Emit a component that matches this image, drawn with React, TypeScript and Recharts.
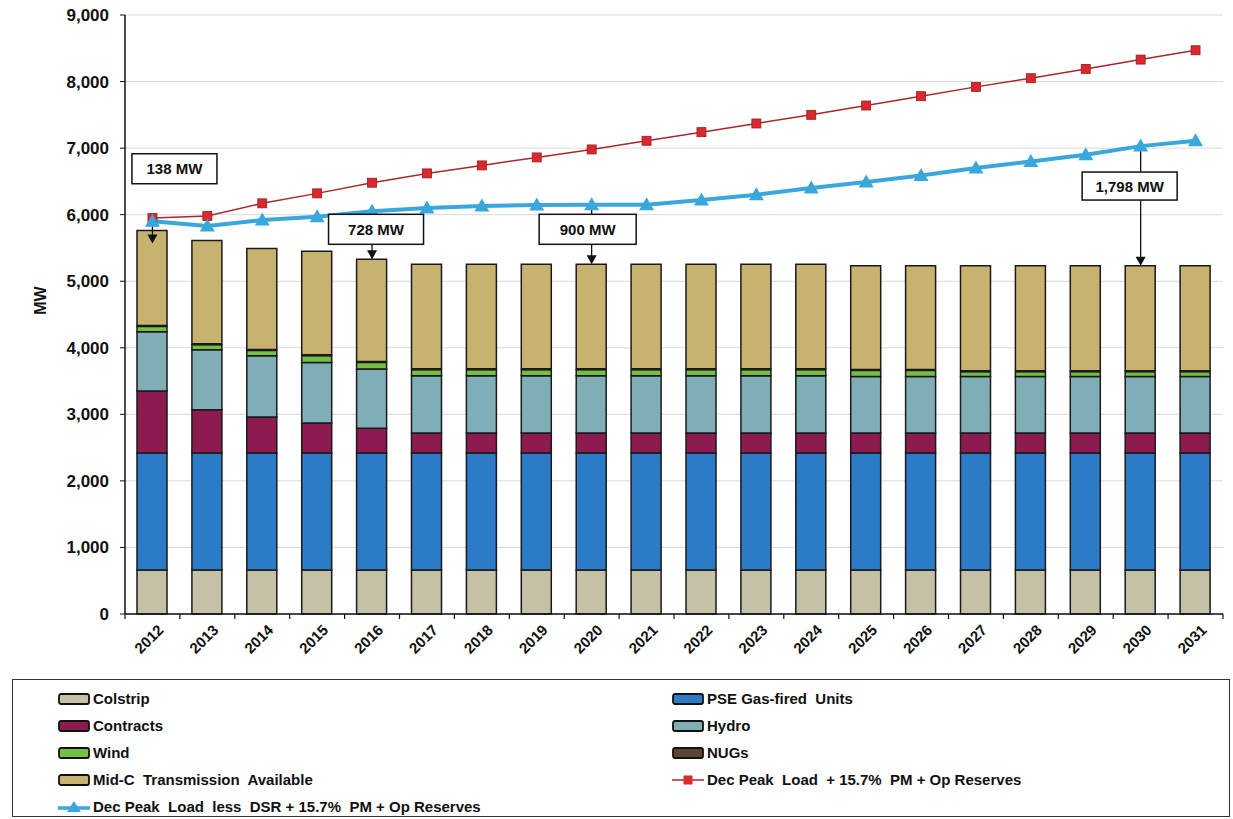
import {
  ComposedChart,
  Bar,
  Line,
  XAxis,
  YAxis,
  CartesianGrid,
  ReferenceLine,
  ReferenceDot,
} from 'recharts';

const years = [
  '2012', '2013', '2014', '2015', '2016', '2017', '2018', '2019', '2020', '2021',
  '2022', '2023', '2024', '2025', '2026', '2027', '2028', '2029', '2030', '2031',
];
const colstrip = [660, 660, 660, 660, 660, 660, 660, 660, 660, 660, 660, 660, 660, 660, 660, 660, 660, 660, 660, 660];
const gasUnits = [1760, 1760, 1760, 1760, 1760, 1760, 1760, 1760, 1760, 1760, 1760, 1760, 1760, 1760, 1760, 1760, 1760, 1760, 1760, 1760];
const contracts = [930, 650, 540, 450, 370, 300, 300, 300, 300, 300, 300, 300, 300, 300, 300, 300, 300, 300, 300, 300];
const hydro = [890, 900, 920, 910, 890, 860, 860, 860, 860, 860, 860, 860, 860, 850, 850, 850, 850, 850, 850, 850];
const wind = [80, 75, 80, 100, 100, 90, 90, 90, 90, 90, 90, 90, 90, 90, 90, 70, 70, 70, 70, 70];
const nugs = [15, 15, 15, 15, 15, 15, 15, 15, 15, 15, 15, 15, 15, 15, 15, 15, 15, 15, 15, 15];
const midC = [1427, 1550, 1515, 1555, 1535, 1570, 1570, 1570, 1570, 1570, 1570, 1570, 1570, 1557, 1557, 1577, 1577, 1577, 1577, 1577];
const peakLoad = [5950, 5980, 6170, 6320, 6480, 6620, 6740, 6860, 6980, 7110, 7240, 7370, 7500, 7640, 7780, 7920, 8050, 8190, 8330, 8470];
const peakLessDsr = [5900, 5830, 5920, 5970, 6050, 6100, 6130, 6145, 6150, 6150, 6220, 6300, 6400, 6490, 6590, 6700, 6800, 6900, 7030, 7110];
const yTicks = [0, 1000, 2000, 3000, 4000, 5000, 6000, 7000, 8000, 9000];

// gap callouts: year, label text
const gapYears = ['2012', '2016', '2020', '2030'];
const gapLabels = ['138 MW', '728 MW', '900 MW', '1,798 MW'];

const data = years.map((year, i) => ({
  year,
  colstrip: colstrip[i],
  gas: gasUnits[i],
  contracts: contracts[i],
  hydro: hydro[i],
  wind: wind[i],
  nugs: nugs[i],
  midC: midC[i],
  peak: peakLoad[i],
  peakDsr: peakLessDsr[i],
  total: colstrip[i] + gasUnits[i] + contracts[i] + hydro[i] + wind[i] + nugs[i] + midC[i],
}));

const C = {
  colstrip: '#c5c1a7',
  gas: '#2b7bc6',
  contracts: '#8c1b50',
  hydro: '#80aeb7',
  wind: '#74bf45',
  nugs: '#5a4536',
  midC: '#c8b26f',
  redLine: '#a8282b',
  redMark: '#d9282e',
  blue: '#3aa7dc',
};

const FONT = "'Liberation Sans', Arial, sans-serif";

function YearTick(props: any) {
  const { x, y, payload, index } = props;
  const half = 27.45;
  return (
    <g>
      <line x1={x - half} x2={x - half} y1={y - 8} y2={y - 3} stroke="#111" strokeWidth={1.2} />
      {index === years.length - 1 && (
        <line x1={x + half} x2={x + half} y1={y - 8} y2={y - 3} stroke="#111" strokeWidth={1.2} />
      )}
      <text
        transform={`translate(${x + 12},${y + 9}) rotate(-45)`}
        textAnchor="end"
        fontFamily={FONT}
        fontWeight="bold"
        fontSize={15}
        fill="#111"
      >
        {payload.value}
      </text>
    </g>
  );
}

function SquareDot(props: any) {
  const { cx, cy } = props;
  if (cx == null || cy == null) return null;
  return <rect x={cx - 4.5} y={cy - 4.5} width={9} height={9} fill={C.redMark} stroke="#9b1c1f" strokeWidth={0.8} />;
}

function TriangleDot(props: any) {
  const { cx, cy } = props;
  if (cx == null || cy == null) return null;
  return <polygon points={`${cx},${cy - 7.5} ${cx - 7.5},${cy + 5.5} ${cx + 7.5},${cy + 5.5}`} fill={C.blue} />;
}

function makeArrow(extraBottom: number) {
  return (props: any) => {
    const { x1, y1, x2, y2 } = props;
    const top = Math.min(y1, y2) - 4;
    const bot = Math.max(y1, y2) + extraBottom;
    return (
      <g>
        <line x1={x1} x2={x2} y1={top + 6} y2={bot - 6} stroke="#111" strokeWidth={1.3} />
        <polygon points={`${x1},${top} ${x1 - 5},${top + 9} ${x1 + 5},${top + 9}`} fill="#111" />
        <polygon points={`${x1},${bot} ${x1 - 5},${bot - 9} ${x1 + 5},${bot - 9}`} fill="#111" />
      </g>
    );
  };
}

function makeBox(text: string, dx: number, w: number, h: number) {
  return (props: any) => {
    const { cx, cy } = props;
    return (
      <g>
        <rect x={cx + dx - w / 2} y={cy - h / 2} width={w} height={h} fill="#fff" stroke="#111" strokeWidth={1.5} />
        <text
          x={cx + dx}
          y={cy + 5.5}
          textAnchor="middle"
          fontFamily={FONT}
          fontWeight="bold"
          fontSize={15}
          fill="#111"
        >
          {text}
        </text>
      </g>
    );
  };
}

const boxPlacement = [
  { y: 6690, dx: 22, w: 85, h: 30, extra: 13 },
  { y: 5780, dx: 4, w: 95, h: 30, extra: 0 },
  { y: 5780, dx: -4, w: 97, h: 30, extra: 0 },
  { y: 6430, dx: -11, w: 95, h: 28, extra: 0 },
];

const legendItems = [
  { name: 'Colstrip', kind: 'bar', color: C.colstrip },
  { name: 'PSE Gas-fired  Units', kind: 'bar', color: C.gas },
  { name: 'Contracts', kind: 'bar', color: C.contracts },
  { name: 'Hydro', kind: 'bar', color: C.hydro },
  { name: 'Wind', kind: 'bar', color: C.wind },
  { name: 'NUGs', kind: 'bar', color: C.nugs },
  { name: 'Mid-C  Transmission  Available', kind: 'bar', color: C.midC },
  { name: 'Dec Peak  Load  + 15.7%  PM + Op Reserves', kind: 'red', color: C.redMark },
  { name: 'Dec Peak  Load  less  DSR + 15.7%  PM + Op Reserves', kind: 'blue', color: C.blue },
];

function Swatch({ kind, color }: { kind: string; color: string }) {
  if (kind === 'bar') {
    return (
      <svg width={32} height={12}>
        <rect x={1} y={1} width={30} height={10} rx={2} fill={color} stroke="#111" strokeWidth={1.8} />
      </svg>
    );
  }
  if (kind === 'red') {
    return (
      <svg width={32} height={12}>
        <line x1={0} x2={32} y1={6} y2={6} stroke={C.redLine} strokeWidth={1.5} />
        <rect x={11.5} y={1.5} width={9} height={9} fill={C.redMark} />
      </svg>
    );
  }
  return (
    <svg width={32} height={14}>
      <line x1={0} x2={32} y1={8} y2={8} stroke={C.blue} strokeWidth={3.5} />
      <polygon points="16,1 9,12 23,12" fill={C.blue} />
    </svg>
  );
}

export default function App() {
  return (
    <div style={{ position: 'absolute', left: 0, top: 0, width: 1233, height: 819, background: '#fff' }}>
      <ComposedChart
        width={1233}
        height={680}
        data={data}
        margin={{ top: 15, right: 10, left: 20, bottom: 0 }}
        barSize={30}
      >
        <CartesianGrid vertical={false} stroke="#d9d9d9" strokeWidth={1} />
        <XAxis
          dataKey="year"
          height={66}
          axisLine={{ stroke: '#111', strokeWidth: 1.5 }}
          tickLine={false}
          tick={<YearTick />}
          interval={0}
        />
        <XAxis xAxisId="top" dataKey="year" orientation="top" height={0} tick={false} tickLine={false} axisLine={{ stroke: '#111', strokeWidth: 1.2 }} />
        <YAxis
          width={105}
          domain={[0, 9000]}
          ticks={yTicks}
          tickFormatter={(v: number) => v.toLocaleString('en-US')}
          tick={{ fontFamily: FONT, fontWeight: 'bold', fontSize: 17, fill: '#111' }}
          axisLine={{ stroke: '#111', strokeWidth: 1.5 }}
          tickLine={{ stroke: '#111' }}
          tickSize={5}
          tickMargin={11}
          label={{
            value: 'MW',
            angle: -90,
            position: 'insideLeft',
            offset: 20,
            dy: -14,
            style: { textAnchor: 'middle', fontFamily: FONT, fontWeight: 'bold', fontSize: 16, fill: '#111' },
          }}
        />
        <YAxis yAxisId="right" orientation="right" width={0} domain={[0, 9000]} tick={false} tickLine={false} axisLine={{ stroke: '#111', strokeWidth: 1.2 }} />

        <Bar dataKey="colstrip" stackId="a" fill={C.colstrip} stroke="#1a1a1a" strokeWidth={1.5} isAnimationActive={false} />
        <Bar dataKey="gas" stackId="a" fill={C.gas} stroke="#1a1a1a" strokeWidth={1.5} isAnimationActive={false} />
        <Bar dataKey="contracts" stackId="a" fill={C.contracts} stroke="#1a1a1a" strokeWidth={1.5} isAnimationActive={false} />
        <Bar dataKey="hydro" stackId="a" fill={C.hydro} stroke="#1a1a1a" strokeWidth={1.5} isAnimationActive={false} />
        <Bar dataKey="wind" stackId="a" fill={C.wind} stroke="#1a1a1a" strokeWidth={1.5} isAnimationActive={false} />
        <Bar dataKey="nugs" stackId="a" fill={C.nugs} stroke="#1a1a1a" strokeWidth={1} isAnimationActive={false} />
        <Bar dataKey="midC" stackId="a" fill={C.midC} stroke="#1a1a1a" strokeWidth={1.5} isAnimationActive={false} />

        <Line
          dataKey="peak"
          stroke={C.redLine}
          strokeWidth={1.5}
          dot={<SquareDot />}
          activeDot={false}
          isAnimationActive={false}
        />
        <Line
          dataKey="peakDsr"
          stroke={C.blue}
          strokeWidth={4}
          dot={<TriangleDot />}
          activeDot={false}
          isAnimationActive={false}
        />

        {gapYears.map((yr, i) => {
          const row = data[years.indexOf(yr)];
          return (
            <ReferenceLine
              key={`arrow-${yr}`}
              segment={[
                { x: yr, y: row.peakDsr },
                { x: yr, y: row.total },
              ]}
              shape={makeArrow(boxPlacement[i].extra)}
            />
          );
        })}
        {gapYears.map((yr, i) => (
          <ReferenceDot
            key={`box-${yr}`}
            x={yr}
            y={boxPlacement[i].y}
            shape={makeBox(gapLabels[i], boxPlacement[i].dx, boxPlacement[i].w, boxPlacement[i].h)}
          />
        ))}
      </ComposedChart>

      <div
        style={{
          position: 'absolute',
          left: 12,
          top: 679,
          width: 1218,
          height: 138,
          boxSizing: 'border-box',
          border: '1.5px solid #333',
          fontFamily: FONT,
          fontWeight: 'bold',
          fontSize: 15,
          color: '#111',
        }}
      >
        {legendItems.map((it, i) => (
          <div
            key={it.name}
            style={{
              position: 'absolute',
              left: i % 2 === 0 ? 45 : 659,
              top: 5 + Math.floor(i / 2) * 27,
              height: 27,
              display: 'flex',
              alignItems: 'center',
              gap: 3,
              whiteSpace: 'pre',
            }}
          >
            <Swatch kind={it.kind} color={it.color} />
            <span>{it.name}</span>
          </div>
        ))}
      </div>
    </div>
  );
}
